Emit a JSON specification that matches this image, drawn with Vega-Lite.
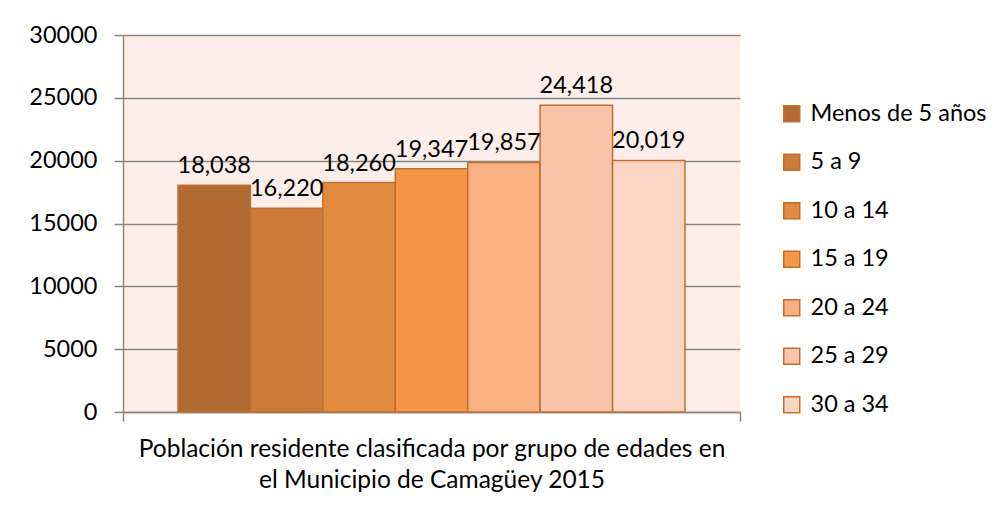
{
  "$schema": "https://vega.github.io/schema/vega-lite/v6.json",
  "width": 617,
  "height": 377,
  "autosize": {"type": "none"},
  "padding": {"left": 123, "top": 35, "right": 263, "bottom": 98},
  "background": "white",
  "config": {
    "font": "Lato",
    "view": {"fill": "#FDEEE9", "stroke": null}
  },
  "data": {
    "values": [
      {"cat": "Población", "grupo": "Menos de 5 años", "valor": 18038},
      {"cat": "Población", "grupo": "5 a 9", "valor": 16220},
      {"cat": "Población", "grupo": "10 a 14", "valor": 18260},
      {"cat": "Población", "grupo": "15 a 19", "valor": 19347},
      {"cat": "Población", "grupo": "20 a 24", "valor": 19857},
      {"cat": "Población", "grupo": "25 a 29", "valor": 24418},
      {"cat": "Población", "grupo": "30 a 34", "valor": 20019}
    ]
  },
  "encoding": {
    "x": {
      "field": "cat", "type": "nominal",
      "scale": {"paddingInner": 0, "paddingOuter": 0},
      "axis": {
        "labels": false, "tickBand": "extent", "tickSize": 9, "tickColor": "#868686", "tickWidth": 1.5,
        "domainColor": "#868686", "domainWidth": 1.5,
        "title": ["Población residente clasificada por grupo de edades en", "el Municipio de Camagüey 2015"],
        "titleFont": "Lato", "titleFontSize": 24.5, "titleFontWeight": "normal", "titleColor": "#000000",
        "titlePadding": 16, "titleLineHeight": 31
      }
    },
    "xOffset": {
      "field": "grupo", "type": "nominal",
      "sort": ["Menos de 5 años", "5 a 9", "10 a 14", "15 a 19", "20 a 24", "25 a 29", "30 a 34"],
      "scale": {"paddingInner": 0, "paddingOuter": 0.76}
    },
    "y": {
      "field": "valor", "type": "quantitative",
      "scale": {"domain": [0, 30000]},
      "axis": {
        "title": null, "values": [0, 5000, 10000, 15000, 20000, 25000, 30000],
        "format": "d", "labelFontSize": 23.5, "labelColor": "#000000", "labelPadding": 17,
        "tickSize": 9, "tickColor": "#868686", "tickWidth": 1.5,
        "domainColor": "#868686", "domainWidth": 1.5,
        "gridColor": "#868686", "gridWidth": 1.5
      }
    }
  },
  "layer": [
    {
      "mark": {"type": "bar", "stroke": "#C0702E", "strokeWidth": 1.5},
      "encoding": {
        "color": {
          "field": "grupo", "type": "nominal",
          "sort": ["Menos de 5 años", "5 a 9", "10 a 14", "15 a 19", "20 a 24", "25 a 29", "30 a 34"],
          "scale": {
            "domain": ["Menos de 5 años", "5 a 9", "10 a 14", "15 a 19", "20 a 24", "25 a 29", "30 a 34"],
            "range": ["#B06A32", "#CB7B38", "#E28A40", "#F79646", "#F8AF82", "#F9C4A9", "#FAD5C3"]
          },
          "legend": {
            "orient": "none", "legendX": 657, "legendY": 67, "title": null,
            "symbolType": "square", "symbolSize": 256, "symbolStrokeColor": "#C0702E", "symbolStrokeWidth": 1.5,
            "labelFontSize": 23.5, "labelColor": "#000000", "labelOffset": 7, "rowPadding": 23.5, "padding": 0,
            "labelFont": "Lato", "labelLimit": 0
          }
        }
      }
    },
    {
      "mark": {"type": "text", "baseline": "bottom", "dy": -7, "fontSize": 23.5, "color": "#000000"},
      "encoding": {
        "text": {"field": "valor", "type": "quantitative", "format": ","}
      }
    }
  ]
}
